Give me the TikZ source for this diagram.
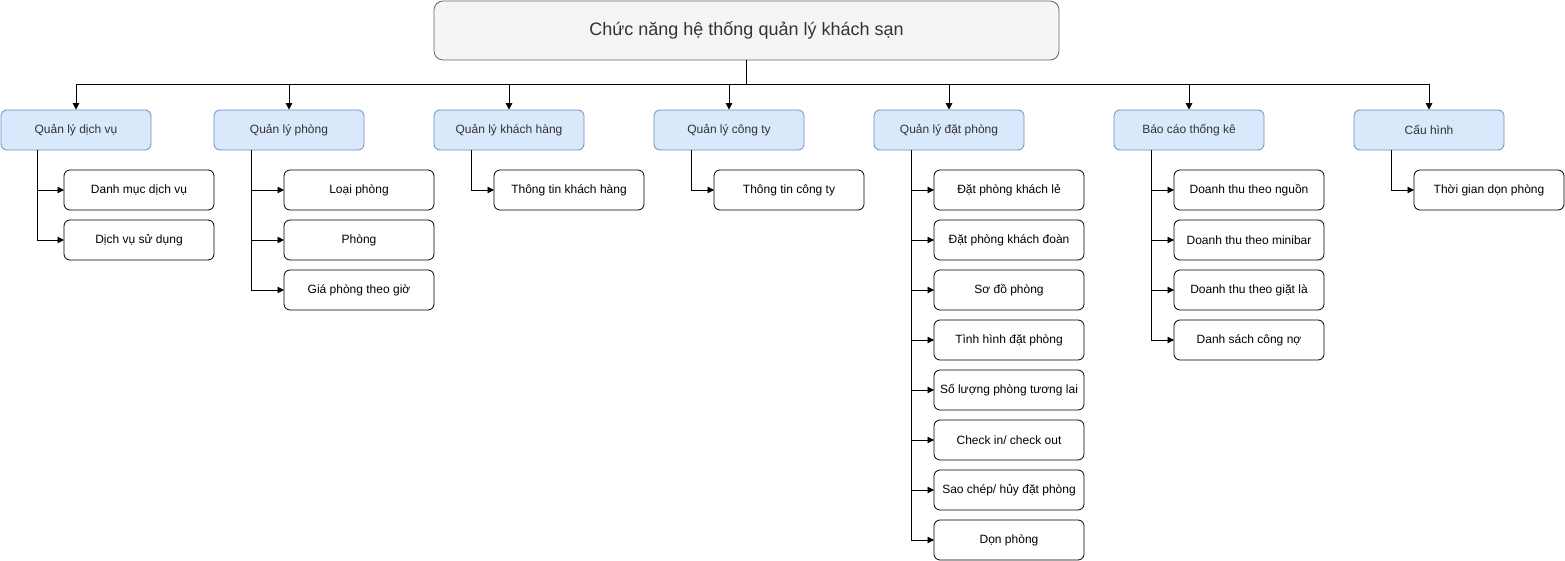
\documentclass[tikz,border=0pt]{standalone}
\usepackage{fontspec}
\setmainfont{Liberation Sans}
\usetikzlibrary{
	positioning,
	arrows.meta
}
\definecolor{headfill}{HTML}{F5F5F5}
\definecolor{headdraw}{HTML}{666666}
\definecolor{headtext}{HTML}{333333}
\definecolor{groupfill}{HTML}{DAE8FC}
\definecolor{groupdraw}{HTML}{6C8EBF}

\begin{document}
\begin{tikzpicture}[x=1pt,y=-1pt,node distance = 10pt,font=\fontsize{12}{14}\selectfont,
 head/.style = {draw=headdraw,fill=headfill,text=headtext,line width=0.8pt,rounded corners=9pt,minimum width=625pt,minimum height=59pt,font=\fontsize{18}{22}\selectfont},
 group/.style = {draw=groupdraw,fill=groupfill,text=headtext,line width=0.8pt,rounded corners=6pt,minimum width=150pt,minimum height=40pt,inner sep=0pt},
 leaf/.style = {draw,fill=white,line width=0.8pt,rounded corners=6pt,minimum width=150pt,minimum height=40pt,inner sep=0pt,outer sep=0pt},
 link/.style = {-{Triangle[length=6.5pt,width=6.5pt]},line width=0.8pt},
]
\useasboundingbox (0,0) rectangle (1565,561);

\node (top)[head] at (746.5,30.5) {Chức năng hệ thống quản lý khách sạn};

\node (c1)[group] at (76,130)   {Quản lý dịch vụ};
\node (c2)[group] at (289,130)  {Quản lý phòng};
\node (c3)[group] at (509,130)  {Quản lý khách hàng};
\node (c4)[group] at (729,130)  {Quản lý công ty};
\node (c5)[group] at (949,130)  {Quản lý đặt phòng};
\node (c6)[group] at (1189,130) {Báo cáo thống kê};
\node (c7)[group] at (1429,130) {Cấu hình};

% children
\node (c1a)[leaf] at (139,190) {Danh mục dịch vụ};
\node (c1b)[leaf,below=of c1a] {Dịch vụ sử dụng};

\node (c2a)[leaf] at (359,190) {Loại phòng};
\node (c2b)[leaf,below=of c2a] {Phòng};
\node (c2c)[leaf,below=of c2b] {Giá phòng theo giờ};

\node (c3a)[leaf] at (569,190) {Thông tin khách hàng};

\node (c4a)[leaf] at (789,190) {Thông tin công ty};

\node (c5a)[leaf] at (1009,190) {Đặt phòng khách lẻ};
\node (c5b)[leaf,below=of c5a] {Đặt phòng khách đoàn};
\node (c5c)[leaf,below=of c5b] {Sơ đồ phòng};
\node (c5d)[leaf,below=of c5c] {Tình hình đặt phòng};
\node (c5e)[leaf,below=of c5d] {Số lượng phòng tương lai};
\node (c5f)[leaf,below=of c5e] {Check in/ check out};
\node (c5g)[leaf,below=of c5f] {Sao chép/ hủy đặt phòng};
\node (c5h)[leaf,below=of c5g] {Dọn phòng};

\node (c6a)[leaf] at (1249,190) {Doanh thu theo nguồn};
\node (c6b)[leaf,below=of c6a] {Doanh thu theo minibar};
\node (c6c)[leaf,below=of c6b] {Doanh thu theo giặt là};
\node (c6d)[leaf,below=of c6c] {Danh sách công nợ};

\node (c7a)[leaf] at (1489,190) {Thời gian dọn phòng};

% top level
\coordinate (bus) at (746.5,84);
\draw[link] (top.south) -- (bus) -| (c1.north);
\draw[link] (top.south) -- (bus) -| (c2.north);
\draw[link] (top.south) -- (bus) -| (c3.north);
\draw[link] (top.south) -- (bus) -| (c4.north);
\draw[link] (top.south) -- (bus) -| (c5.north);
\draw[link] (top.south) -- (bus) -| (c6.north);
\draw[link] (top.south) -- (bus) -| (c7.north);

% second level
\coordinate (s1) at ([xshift=37pt]c1.south west);
\coordinate (s2) at ([xshift=38pt]c2.south west);
\coordinate (s3) at ([xshift=38pt]c3.south west);
\coordinate (s4) at ([xshift=38pt]c4.south west);
\coordinate (s5) at ([xshift=38pt]c5.south west);
\coordinate (s6) at ([xshift=38pt]c6.south west);
\coordinate (s7) at ([xshift=38pt]c7.south west);

\draw[link] (s1) |- (c1a.west);
\draw[link] (s1) |- (c1b.west);
\draw[link] (s2) |- (c2a.west);
\draw[link] (s2) |- (c2b.west);
\draw[link] (s2) |- (c2c.west);
\draw[link] (s3) |- (c3a.west);
\draw[link] (s4) |- (c4a.west);
\draw[link] (s5) |- (c5a.west);
\draw[link] (s5) |- (c5b.west);
\draw[link] (s5) |- (c5c.west);
\draw[link] (s5) |- (c5d.west);
\draw[link] (s5) |- (c5e.west);
\draw[link] (s5) |- (c5f.west);
\draw[link] (s5) |- (c5g.west);
\draw[link] (s5) |- (c5h.west);
\draw[link] (s6) |- (c6a.west);
\draw[link] (s6) |- (c6b.west);
\draw[link] (s6) |- (c6c.west);
\draw[link] (s6) |- (c6d.west);
\draw[link] (s7) |- (c7a.west);
\end{tikzpicture}
\end{document}
